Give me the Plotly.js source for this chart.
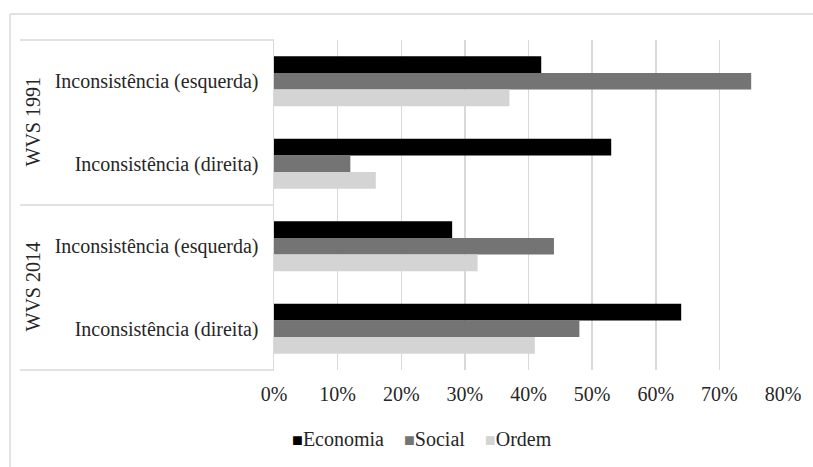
<!DOCTYPE html>
<html>
<head>
<meta charset="utf-8">
<script src="https://cdn.plot.ly/plotly-3.0.1.min.js"></script>
<style>
  html, body { margin: 0; padding: 0; background: #ffffff; overflow: hidden; }
  #chart { width: 813px; height: 467px; }
</style>
</head>
<body>
<div id="chart"></div>
<script>
// Survey waves and the inconsistency type shown in each row
const waves = ['WVS 1991', 'WVS 1991', 'WVS 2014', 'WVS 2014'];
const categories = [
  'Inconsistência (esquerda)',
  'Inconsistência (direita)',
  'Inconsistência (esquerda)',
  'Inconsistência (direita)'
];

// Share of respondents (%) per dimension
const economia = [42, 53, 28, 64];
const social   = [75, 12, 44, 48];
const ordem    = [37, 16, 32, 41];

const seriesNames = ['Economia', 'Social', 'Ordem'];
const xTicks = [0, 10, 20, 30, 40, 50, 60, 70, 80];

const rows = categories.map((_, i) => i);
const colors = ['#000000', '#747474', '#d4d4d4'];
const font = 'Liberation Serif, Times New Roman, serif';
const textColor = '#262626';
const lineColor = '#d9d9d9';

const traces = [economia, social, ordem].map((vals, k) => ({
  type: 'bar',
  orientation: 'h',
  name: seriesNames[k],
  x: vals,
  y: rows,
  marker: { color: colors[k], line: { width: 0 } },
  hoverinfo: 'x+name',
  showlegend: false
}));

// One rotated label per survey wave, centred on its rows
const waveNames = [...new Set(waves)];
const waveAnnotations = waveNames.map(w => {
  const idx = rows.filter(i => waves[i] === w);
  const mid = idx.reduce((a, b) => a + b, 0) / idx.length;
  return {
    text: w,
    xref: 'paper', x: 0, xshift: -242, xanchor: 'center',
    yref: 'y', y: mid, yanchor: 'middle',
    textangle: -90,
    showarrow: false,
    font: { family: font, size: 20, color: textColor }
  };
});

// Compact key below the axis: coloured square glued to each series name
const nb = '\u00a0';
const keyText = seriesNames.map((name, k) =>
  '<span style="color:' + colors[k] + ';font-size:18px">\u25A0</span>' + name
).join(nb.repeat(4));
const keyAnnotation = {
  text: keyText,
  xref: 'paper', x: 0.29, xanchor: 'center',
  yref: 'paper', y: -0.209, yanchor: 'middle',
  showarrow: false,
  font: { family: font, size: 20, color: textColor }
};

// Boundaries between wave groups inside the label box
const boundaries = [];
for (let i = 1; i < waves.length; i++) {
  if (waves[i] !== waves[i - 1]) boundaries.push(i - 0.5);
}

const boxLine = { color: lineColor, width: 1.5 };
const shapes = [
  // outer frame: left and top edges, running off the right and bottom of the page
  {
    type: 'line', xref: 'paper', xsizemode: 'pixel', xanchor: 0, x0: -264, x1: -264,
    yref: 'paper', ysizemode: 'pixel', yanchor: 1, y0: -440, y1: 26, line: boxLine
  },
  {
    type: 'line', xref: 'paper', xsizemode: 'pixel', xanchor: 0, x0: -264, x1: 539,
    yref: 'paper', ysizemode: 'pixel', yanchor: 1, y0: 26, y1: 26, line: boxLine
  },
  // label box top and bottom
  {
    type: 'line', xref: 'paper', xsizemode: 'pixel', xanchor: 0, x0: -254, x1: 0,
    yref: 'paper', y0: 1, y1: 1, line: boxLine
  },
  {
    type: 'line', xref: 'paper', xsizemode: 'pixel', xanchor: 0, x0: -254, x1: 0,
    yref: 'paper', y0: 0, y1: 0, line: boxLine
  }
].concat(boundaries.map(b => ({
  type: 'line', xref: 'paper', xsizemode: 'pixel', xanchor: 0, x0: -254, x1: 0,
  yref: 'y', y0: b, y1: b, line: boxLine
})));

const layout = {
  width: 813,
  height: 467,
  margin: { l: 274, r: 30, t: 40, b: 97 },
  paper_bgcolor: '#ffffff',
  plot_bgcolor: '#ffffff',
  barmode: 'group',
  bargap: 0.393,
  bargroupgap: 0,
  font: { family: font, size: 20, color: textColor },
  xaxis: {
    range: [0, 80],
    tickvals: xTicks,
    ticktext: xTicks.map(v => v + '%'),
    showgrid: true,
    gridcolor: lineColor,
    gridwidth: 1.5,
    zeroline: false,
    showline: false,
    ticks: '',
    ticklabelstandoff: 10,
    tickfont: { family: font, size: 20, color: textColor },
    fixedrange: true
  },
  yaxis: {
    range: [rows.length - 0.5, -0.5],
    tickvals: rows,
    ticktext: categories,
    showgrid: false,
    zeroline: false,
    showline: true,
    linecolor: lineColor,
    linewidth: 1.5,
    ticks: '',
    ticklabelstandoff: 10,
    tickfont: { family: font, size: 20, color: textColor },
    fixedrange: true
  },
  showlegend: false,
  annotations: waveAnnotations.concat([keyAnnotation]),
  shapes: shapes
};

Plotly.newPlot('chart', traces, layout, { displayModeBar: false, staticPlot: true });
</script>
</body>
</html>
